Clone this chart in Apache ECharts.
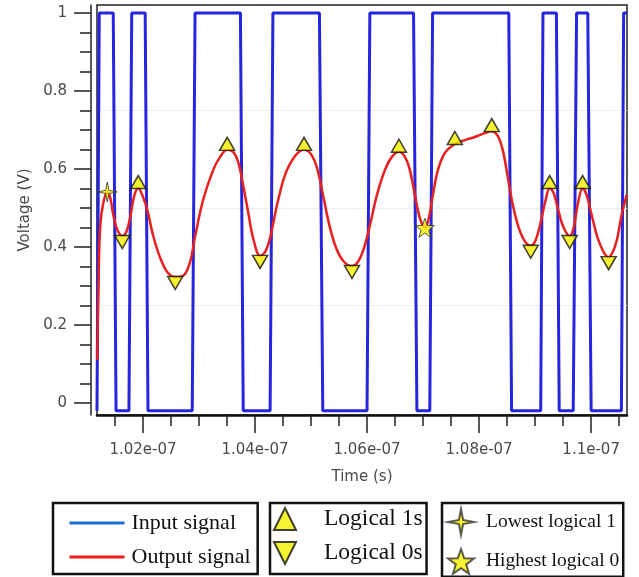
<!DOCTYPE html>
<html>
<head>
<meta charset="utf-8">
<script src="https://cdn.jsdelivr.net/npm/echarts@6/dist/echarts.min.js"></script>
<style>
  html, body { margin: 0; padding: 0; background: #fff; }
  #chart { width: 639px; height: 577px; }
</style>
</head>
<body>
<div id="chart"></div>
<script>
// time in ns, voltage in V
var inputT = [101.18, 101.22, 101.47, 101.52, 101.75, 101.80, 102.04, 102.09, 102.88, 102.93,
    103.74, 103.79, 104.27, 104.32, 105.15, 105.21, 106.00, 106.05, 106.83, 106.89,
    107.12, 107.17, 108.53, 108.58, 109.10, 109.14, 109.38, 109.43, 109.68, 109.74,
    109.94, 110.00, 110.54, 110.58, 110.64];
var inputV = [-0.02, 1, 1, -0.02, -0.02, 1, 1, -0.02, -0.02, 1,
    1, -0.02, -0.02, 1, 1, -0.02, -0.02, 1, 1, -0.02,
    -0.02, 1, 1, -0.02, -0.02, 1, 1, -0.02, -0.02, 1,
    1, -0.02, -0.02, 1, 1];

var outputT = [101.185, 101.212, 101.239, 101.292, 101.364, 101.417, 101.471, 101.542, 101.631, 101.702,
    101.774, 101.845, 101.916, 101.988, 102.077, 102.184, 102.308, 102.433, 102.576, 102.718,
    102.843, 102.932, 103.075, 103.253, 103.378, 103.503, 103.610, 103.699, 103.788, 103.877,
    103.966, 104.091, 104.180, 104.269, 104.394, 104.537, 104.715, 104.875, 105.000, 105.107,
    105.214, 105.339, 105.463, 105.588, 105.731, 105.838, 105.945, 106.052, 106.176, 106.319,
    106.444, 106.569, 106.676, 106.765, 106.854, 106.943, 107.032, 107.103, 107.175, 107.264,
    107.389, 107.567, 107.745, 107.923, 108.102, 108.226, 108.333, 108.422, 108.512, 108.601,
    108.708, 108.815, 108.922, 109.011, 109.100, 109.189, 109.260, 109.331, 109.421, 109.510,
    109.617, 109.688, 109.759, 109.848, 109.920, 110.009, 110.116, 110.223, 110.312, 110.401,
    110.472, 110.544, 110.633];
var outputV = [0.110, 0.341, 0.456, 0.513, 0.541, 0.526, 0.482, 0.444, 0.428, 0.438,
    0.477, 0.531, 0.551, 0.533, 0.495, 0.428, 0.372, 0.336, 0.323, 0.326,
    0.362, 0.428, 0.521, 0.597, 0.631, 0.649, 0.644, 0.618, 0.559, 0.490,
    0.423, 0.377, 0.387, 0.423, 0.508, 0.585, 0.633, 0.649, 0.638, 0.603,
    0.533, 0.449, 0.392, 0.362, 0.351, 0.362, 0.397, 0.456, 0.533, 0.597,
    0.631, 0.644, 0.631, 0.597, 0.533, 0.474, 0.449, 0.474, 0.533, 0.597,
    0.641, 0.664, 0.674, 0.682, 0.692, 0.697, 0.685, 0.649, 0.579, 0.508,
    0.449, 0.415, 0.403, 0.418, 0.464, 0.521, 0.551, 0.538, 0.490, 0.449,
    0.428, 0.449, 0.508, 0.551, 0.533, 0.482, 0.423, 0.387, 0.374, 0.392,
    0.426, 0.482, 0.533];

var onesT = [101.916, 103.503, 104.875, 106.569, 107.567, 108.226, 109.260, 109.848];
var onesV = [0.551, 0.649, 0.649, 0.644, 0.664, 0.697, 0.551, 0.551];
var zerosT = [101.631, 102.576, 104.091, 105.731, 108.922, 109.617, 110.312];
var zerosV = [0.428, 0.323, 0.377, 0.351, 0.403, 0.428, 0.374];
var lowestOneT = [101.364];
var lowestOneV = [0.541];
var highestZeroT = [107.032];
var highestZeroV = [0.449];

var xTickValues = [102, 104, 106, 108, 110];
var xTickLabels = ['1.02e-07', '1.04e-07', '1.06e-07', '1.08e-07', '1.1e-07'];
var xMinorTicks = [101.5, 102, 102.5, 103, 103.5, 104, 104.5, 105, 105.5, 106, 106.5, 107, 107.5, 108, 108.5, 109, 109.5, 110, 110.5];
var yTickValues = [0, 0.2, 0.4, 0.6, 0.8, 1];
var yTickLabels = ['0', '0.2', '0.4', '0.6', '0.8', '1'];
var yMinorTicks = [0, 0.05, 0.1, 0.15, 0.2, 0.25, 0.3, 0.35, 0.4, 0.45, 0.5, 0.55, 0.6, 0.65, 0.7, 0.75, 0.8, 0.85, 0.9, 0.95, 1];
var yGridValues = [0.25, 0.5, 0.75];

function zip(a, b) {
    var out = [];
    for (var i = 0; i < a.length; i++) out.push([a[i], b[i]]);
    return out;
}

var UP_TRI = 'path://M5,0 L10,10 L0,10 Z';
var DOWN_TRI = 'path://M0,0 L10,0 L5,10 Z';
var SPARKLE = 'path://M0,-10 L1.6,-1.6 L10,0 L1.6,1.6 L0,10 L-1.6,1.6 L-10,0 L-1.6,-1.6 Z';
var STAR = 'path://M0,-10 L2.35,-3.24 L9.51,-3.09 L3.8,1.24 L5.88,8.09 L0,4 L-5.88,8.09 L-3.8,1.24 L-9.51,-3.09 L-2.35,-3.24 Z';

var axisFont = { fontFamily: 'DejaVu Sans', fontSize: 15, color: '#4a4a4a' };
var xMin = 101.18, xMax = 110.64;
var yMin = -0.031, yMax = 1.0205;
var yellow = { color: '#f4f000', borderColor: '#111', borderWidth: 1.5 };
var noSymbol = { color: 'rgba(0,0,0,0)', borderColor: 'rgba(0,0,0,0)', borderWidth: 0 };

var option = {
    animation: false,
    backgroundColor: '#fff',
    grid: {
        left: 97, top: 5, right: 12, bottom: 162,
        show: true, borderColor: '#222', borderWidth: 1.5
    },
    xAxis: [
        {
            type: 'value', min: xMin, max: xMax, position: 'bottom',
            name: 'Time (s)', nameLocation: 'middle', nameGap: 55,
            nameTextStyle: axisFont,
            axisLine: { onZero: false, lineStyle: { color: '#111', width: 2.5 } },
            axisTick: { customValues: xTickValues, length: 18, lineStyle: { color: '#222', width: 1.5 } },
            axisLabel: {
                customValues: xTickValues, margin: 28,
                fontFamily: 'DejaVu Sans', fontSize: 15, color: '#4a4a4a',
                formatter: function(v) { return xTickLabels[xTickValues.indexOf(v)]; }
            },
            splitLine: { show: false }
        },
        {
            type: 'value', min: xMin, max: xMax, position: 'bottom',
            axisLine: { show: false, onZero: false },
            axisTick: { customValues: xMinorTicks, length: 11, lineStyle: { color: '#222', width: 1.5 } },
            axisLabel: { show: false },
            splitLine: { show: false }
        }
    ],
    yAxis: [
        {
            type: 'value', min: yMin, max: yMax, position: 'left', offset: 6,
            name: 'Voltage (V)', nameLocation: 'middle', nameGap: 58,
            nameTextStyle: axisFont,
            axisLine: { show: true, onZero: false, lineStyle: { color: '#222', width: 1.5 } },
            axisTick: { show: true, customValues: yTickValues, length: 17, lineStyle: { color: '#222', width: 1.5 } },
            axisLabel: {
                customValues: yTickValues, margin: 24,
                fontFamily: 'DejaVu Sans', fontSize: 15, color: '#4a4a4a',
                formatter: function(v) { return yTickLabels[yTickValues.indexOf(v)]; }
            },
            splitLine: { show: false }
        },
        {
            type: 'value', min: yMin, max: yMax, position: 'left', offset: 6,
            axisLine: { show: false, onZero: false },
            axisTick: { show: true, customValues: yMinorTicks, length: 11, lineStyle: { color: '#222', width: 1.5 } },
            axisLabel: { show: false },
            splitLine: { show: false }
        },
        {
            type: 'value', min: yMin, max: yMax, position: 'right',
            axisLine: { show: false, onZero: false },
            axisTick: { show: false, customValues: yGridValues },
            axisLabel: { show: false },
            splitLine: { show: true, lineStyle: { color: '#eeeeee', width: 1 } }
        }
    ],
    legend: [
        {
            left: 53, top: 503, orient: 'vertical',
            data: [
                { name: 'Input signal', itemStyle: noSymbol, lineStyle: { color: '#1f6fd0', width: 3 } },
                { name: 'Output signal', itemStyle: noSymbol, lineStyle: { color: '#ee1c1c', width: 3 } }
            ],
            itemWidth: 55, itemHeight: 24, itemGap: 10,
            padding: [8, 7, 5, 15],
            borderColor: '#111', borderWidth: 2.5,
            textStyle: { fontFamily: 'Liberation Serif', fontSize: 22, color: '#111', lineHeight: 24, padding: [0, 0, 0, 2] }
        },
        {
            left: 270, top: 503, orient: 'vertical',
            data: ['Logical 1s', 'Logical 0s'],
            itemWidth: 22, itemHeight: 28, itemGap: 6,
            padding: [2, 4, 7, 3],
            borderColor: '#111', borderWidth: 2.5,
            textStyle: { fontFamily: 'Liberation Serif', fontSize: 23.5, color: '#111', lineHeight: 28, padding: [0, 0, 0, 23] }
        },
        {
            left: 442, top: 503, orient: 'vertical',
            data: ['Lowest logical 1', 'Highest logical 0'],
            itemWidth: 26, itemHeight: 26, itemGap: 12,
            padding: [5, 4, 2, 5],
            borderColor: '#111', borderWidth: 2.5,
            textStyle: { fontFamily: 'Liberation Serif', fontSize: 19.5, color: '#111', lineHeight: 26, padding: [0, 0, 0, 7] }
        }
    ],
    series: [
        {
            name: 'Input signal', type: 'line', symbol: 'none',
            data: zip(inputT, inputV),
            lineStyle: { color: '#2525dd', width: 3 },
            itemStyle: { color: '#2525dd' }
        },
        {
            name: 'Output signal', type: 'line', symbol: 'none', smooth: 0.35,
            data: zip(outputT, outputV),
            lineStyle: { color: '#ea1f1f', width: 2.5 },
            itemStyle: { color: '#ea1f1f' }
        },
        {
            name: 'Logical 1s', type: 'scatter', symbol: UP_TRI,
            symbolSize: [15, 13], symbolOffset: [0, -6],
            data: zip(onesT, onesV), itemStyle: yellow, z: 5
        },
        {
            name: 'Logical 0s', type: 'scatter', symbol: DOWN_TRI,
            symbolSize: [15, 13], symbolOffset: [0, 6],
            data: zip(zerosT, zerosV), itemStyle: yellow, z: 5
        },
        {
            name: 'Lowest logical 1', type: 'scatter', symbol: SPARKLE,
            symbolSize: 20,
            data: zip(lowestOneT, lowestOneV),
            itemStyle: { color: '#f4f000', borderColor: '#333', borderWidth: 1 }, z: 6
        },
        {
            name: 'Highest logical 0', type: 'scatter', symbol: STAR,
            symbolSize: 19,
            data: zip(highestZeroT, highestZeroV),
            itemStyle: { color: '#f4f000', borderColor: '#333', borderWidth: 1 }, z: 6
        }
    ]
};

echarts.init(document.getElementById('chart'), null, { renderer: 'canvas' }).setOption(option);
</script>
</body>
</html>
